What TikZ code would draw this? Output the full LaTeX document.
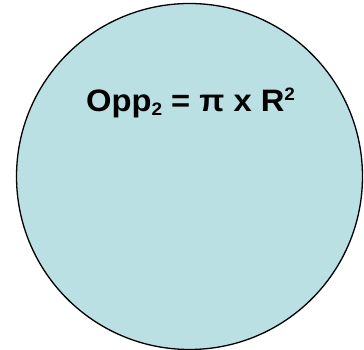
\documentclass[tikz,border=0pt]{standalone}
\usepackage{fontspec}
\setmainfont{Liberation Sans}
\definecolor{discfill}{RGB}{186,224,227}
\newcommand{\smalltwo}{\fontsize{18}{18}\selectfont 2}
\begin{document}
\begin{tikzpicture}[x=1pt,y=1pt,
  disc/.style={circle,draw=black,line width=1.3pt,fill=discfill,minimum size=346pt,inner sep=0pt},
  formula/.style={font=\fontsize{31}{31}\selectfont\bfseries,inner sep=0pt,anchor=base west}]
\useasboundingbox (0,0) rectangle (364,350);
\node[disc] (c) at (189.5,173.5) {};
\node[formula] (f) at (86,238.3) {\scalebox{1.055}[1]{Opp\raisebox{-3.5pt}{\smalltwo} = π x R\raisebox{11.5pt}{\smalltwo}}};
\end{tikzpicture}
\end{document}
